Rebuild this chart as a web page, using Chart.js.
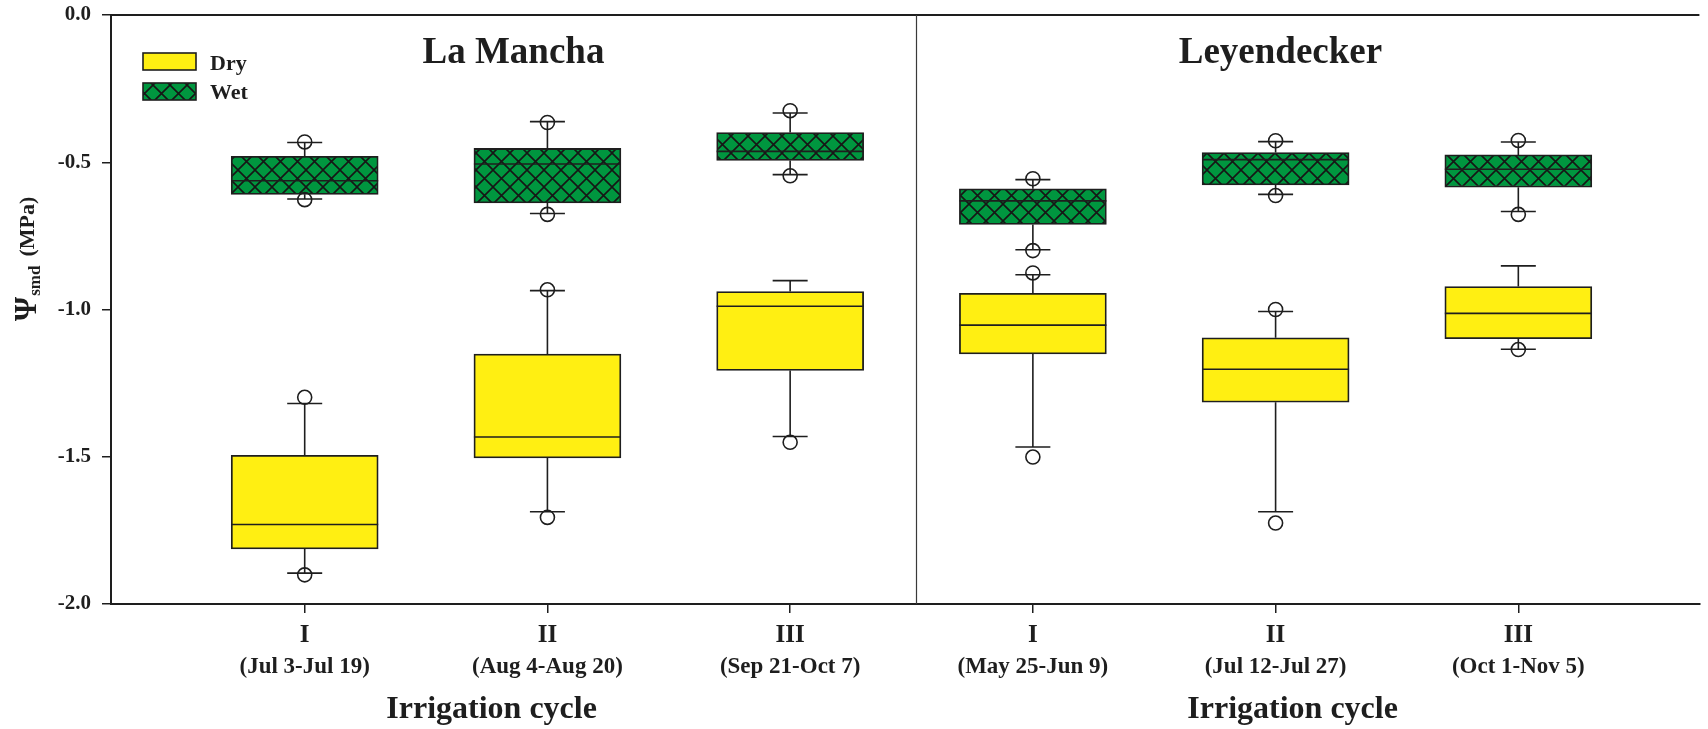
<!DOCTYPE html>
<html>
<head>
<meta charset="utf-8">
<title>Soil matric potential by irrigation cycle</title>
<script src="https://cdn.jsdelivr.net/npm/chart.js@4/dist/chart.umd.min.js"></script>
<style>
  html, body { margin: 0; padding: 0; background: #ffffff; }
  canvas { display: block; }
</style>
</head>
<body>
<canvas id="c" width="1708" height="729"></canvas>
<script>
// ---- data -------------------------------------------------------------
const sites = ['La Mancha', 'Leyendecker'];
const categories = ['I', 'II', 'III', 'I', 'II', 'III'];
const periods = ['(Jul 3-Jul 19)', '(Aug 4-Aug 20)', '(Sep 21-Oct 7)',
                 '(May 25-Jun 9)', '(Jul 12-Jul 27)', '(Oct 1-Nov 5)'];
const yTicks = [0, -0.5, -1.0, -1.5, -2.0];

// Dry treatment (MPa)
const dryQ1          = [-1.813, -1.504, -1.207, -1.151, -1.315, -1.099];
const dryQ3          = [-1.495, -1.151, -0.939, -0.945, -1.096, -0.922];
const dryMedian      = [-1.730, -1.433, -0.989, -1.053, -1.203, -1.013];
const dryWhiskerLow  = [-1.895, -1.687, -1.431, -1.467, -1.687, -1.135];
const dryWhiskerHigh = [-1.319, -0.936, -0.902, -0.882, -1.007, -0.852];
const dryOutLow      = [-1.901, -1.706, -1.451, -1.501, -1.725, -1.136];
const dryOutHigh     = [-1.298, -0.933, null,   -0.876, -1.000, null];

// Wet treatment (MPa)
const wetQ1          = [-0.609, -0.638, -0.494, -0.711, -0.577, -0.585];
const wetQ3          = [-0.480, -0.453, -0.399, -0.590, -0.467, -0.475];
const wetMedian      = [-0.563, -0.506, -0.463, -0.631, -0.491, -0.524];
const wetWhiskerLow  = [-0.625, -0.674, -0.542, -0.797, -0.609, -0.667];
const wetWhiskerHigh = [-0.433, -0.362, -0.333, -0.559, -0.430, -0.431];
const wetOutLow      = [-0.627, -0.677, -0.546, -0.800, -0.613, -0.677];
const wetOutHigh     = [-0.431, -0.365, -0.325, -0.556, -0.427, -0.426];

// ---- styling ----------------------------------------------------------
const GREEN = '#00963F';
const YELLOW = '#FFEF12';
const INK = '#1e1e1e';
const FONT = '"Liberation Serif", "Times New Roman", serif';

const canvas = document.getElementById('c');
const ctx = canvas.getContext('2d');

// cross-hatched green fill for the wet boxes
function makeHatch() {
  const P = 17;
  const t = document.createElement('canvas');
  t.width = t.height = P;
  const g = t.getContext('2d');
  g.fillStyle = GREEN;
  g.fillRect(0, 0, P, P);
  g.strokeStyle = '#161616';
  g.lineWidth = 1.6;
  g.beginPath();
  for (let k = -1; k <= 1; k++) {
    g.moveTo(k * P, 0); g.lineTo(k * P + P, P);
    g.moveTo(k * P + P, 0); g.lineTo(k * P, P);
  }
  g.stroke();
  return ctx.createPattern(t, 'repeat');
}
const hatch = makeHatch();

const xs = categories.map((_, i) => i + 1);
const boxData = (lo, hi) => xs.map((x, i) => ({ x, y: [lo[i], hi[i]] }));
const pointData = (...arrs) => arrs.flatMap(a => xs.map((x, i) => a[i] == null ? null : { x, y: a[i] })).filter(Boolean);

const siteBreak = 3.52;           // x value of the vertical separator
const siteTitleAt = [1.86, 5.02]; // x values where site names are centred
const axisTitleAt = [1.77, 5.07];

// keeps the plot frame exactly where the layout padding puts it
const noScalePadding = s => { s.paddingTop = 0; s.paddingBottom = 0; s.paddingLeft = 0; s.paddingRight = 0; };

// whiskers, caps, medians, and all annotation text
const boxExtras = {
  id: 'boxExtras',
  beforeDatasetsDraw(chart) {
    const { ctx, scales: { x, y } } = chart;
    const capHalf = 17.5;
    ctx.save();
    ctx.strokeStyle = INK;
    ctx.lineWidth = 1.6;
    [[dryQ1, dryQ3, dryWhiskerLow, dryWhiskerHigh],
     [wetQ1, wetQ3, wetWhiskerLow, wetWhiskerHigh]].forEach(([q1, q3, lo, hi]) => {
      xs.forEach((v, i) => {
        const px = x.getPixelForValue(v);
        const yl = y.getPixelForValue(lo[i]);
        const yh = y.getPixelForValue(hi[i]);
        ctx.beginPath();
        ctx.moveTo(px, y.getPixelForValue(q1[i])); ctx.lineTo(px, yl);
        ctx.moveTo(px, y.getPixelForValue(q3[i])); ctx.lineTo(px, yh);
        ctx.moveTo(px - capHalf, yl); ctx.lineTo(px + capHalf, yl);
        ctx.moveTo(px - capHalf, yh); ctx.lineTo(px + capHalf, yh);
        ctx.stroke();
      });
    });
    ctx.restore();
  },
  afterDatasetsDraw(chart) {
    const { ctx, scales: { x, y } } = chart;
    ctx.save();
    ctx.strokeStyle = INK;
    ctx.lineWidth = 1.6;
    [[0, dryMedian], [1, wetMedian]].forEach(([di, med]) => {
      const meta = chart.getDatasetMeta(di);
      xs.forEach((v, i) => {
        const bar = meta.data[i];
        const px = x.getPixelForValue(v);
        const half = bar.width / 2;
        const py = y.getPixelForValue(med[i]);
        ctx.beginPath();
        ctx.moveTo(px - half, py); ctx.lineTo(px + half, py);
        ctx.stroke();
      });
    });
    ctx.restore();
  },
  afterDraw(chart) {
    const { ctx, chartArea: a, scales: { x, y } } = chart;
    ctx.save();
    // frame top and site separator
    ctx.strokeStyle = INK;
    ctx.lineWidth = 2;
    ctx.beginPath();
    ctx.moveTo(a.left, a.top); ctx.lineTo(a.right, a.top);
    ctx.stroke();
    ctx.lineWidth = 1.2;
    ctx.strokeStyle = '#3a3a3a';
    const sx = Math.round(x.getPixelForValue(siteBreak)) + 0.5;
    ctx.beginPath();
    ctx.moveTo(sx, a.top); ctx.lineTo(sx, a.bottom);
    ctx.stroke();

    ctx.fillStyle = INK;
    ctx.textAlign = 'center';
    ctx.textBaseline = 'alphabetic';

    // site names
    ctx.font = `bold 37px ${FONT}`;
    sites.forEach((s, i) => ctx.fillText(s, x.getPixelForValue(siteTitleAt[i]), 63));

    // sampling periods under the cycle numerals
    ctx.font = `bold 23px ${FONT}`;
    xs.forEach((v, i) => ctx.fillText(periods[i], x.getPixelForValue(v), 673));

    // x-axis titles
    ctx.font = `bold 32px ${FONT}`;
    axisTitleAt.forEach(v => ctx.fillText('Irrigation cycle', x.getPixelForValue(v), 718));

    // legend
    const lx = 143, lw = 53, lh = 17;
    [[53, YELLOW, 'Dry', 69.5], [83, hatch, 'Wet', 99]].forEach(([ly, fill, txt, base]) => {
      ctx.fillStyle = fill;
      ctx.fillRect(lx, ly, lw, lh);
      ctx.strokeStyle = INK;
      ctx.lineWidth = 1.6;
      ctx.strokeRect(lx, ly, lw, lh);
      ctx.fillStyle = INK;
      ctx.textAlign = 'left';
      ctx.font = `bold 22px ${FONT}`;
      ctx.fillText(txt, 210, base);
    });

    // y-axis title: Ψ with subscript smd, then units
    ctx.translate(36, 321);
    ctx.rotate(-Math.PI / 2);
    ctx.textAlign = 'left';
    ctx.font = `bold 31px ${FONT}`;
    ctx.fillText('Ψ', 0, 0);
    let cx = ctx.measureText('Ψ').width + 1;
    ctx.font = `bold 17px ${FONT}`;
    ctx.fillText('smd', cx, 4);
    cx += ctx.measureText('smd').width + 9;
    ctx.font = `bold 22px ${FONT}`;
    ctx.fillText('(MPa)', cx, -2);
    ctx.restore();
  }
};

new Chart(ctx, {
  type: 'bar',
  data: {
    datasets: [
      { label: 'Dry', data: boxData(dryQ1, dryQ3), backgroundColor: YELLOW,
        borderColor: INK, borderWidth: 1.8, borderSkipped: false, grouped: false,
        barThickness: 147, order: 2 },
      { label: 'Wet', data: boxData(wetQ1, wetQ3), backgroundColor: hatch,
        borderColor: INK, borderWidth: 1.8, borderSkipped: false, grouped: false,
        barThickness: 147, order: 2 },
      { type: 'scatter', label: 'Dry extremes', data: pointData(dryOutLow, dryOutHigh),
        pointRadius: 7, pointBorderWidth: 1.6, pointBorderColor: INK,
        pointBackgroundColor: 'rgba(0,0,0,0)', order: 1 },
      { type: 'scatter', label: 'Wet extremes', data: pointData(wetOutLow, wetOutHigh),
        pointRadius: 7, pointBorderWidth: 1.6, pointBorderColor: INK,
        pointBackgroundColor: 'rgba(0,0,0,0)', order: 1 }
    ]
  },
  options: {
    responsive: false,
    animation: false,
    layout: { padding: { top: 15, right: 0, left: 0, bottom: 0 } },
    plugins: { legend: { display: false }, tooltip: { enabled: false } },
    scales: {
      x: {
        type: 'linear', min: 0.202, max: 6.746, offset: false,
        afterBuildTicks: s => { s.ticks = xs.map(v => ({ value: v })); },
        afterFit: s => { s.height = 125; noScalePadding(s); },
        ticks: {
          callback: v => categories[v - 1] ?? '',
          font: { family: FONT, size: 25, weight: 'bold' },
          color: INK, padding: 8, autoSkip: false, maxRotation: 0
        },
        grid: { offset: false, drawOnChartArea: false, drawTicks: true, tickLength: 9, color: INK, lineWidth: 1.5 },
        border: { display: true, color: INK, width: 2 }
      },
      y: {
        min: -2, max: 0,
        afterBuildTicks: s => { s.ticks = yTicks.map(v => ({ value: v })); },
        afterFit: s => { s.width = 111; noScalePadding(s); },
        ticks: {
          callback: v => v.toFixed(1),
          font: { family: FONT, size: 21, weight: 'bold' },
          color: INK, padding: 11
        },
        grid: { drawOnChartArea: false, drawTicks: true, tickLength: 9, color: INK, lineWidth: 1.5 },
        border: { display: true, color: INK, width: 2 }
      }
    }
  },
  plugins: [boxExtras]
});
</script>
</body>
</html>
